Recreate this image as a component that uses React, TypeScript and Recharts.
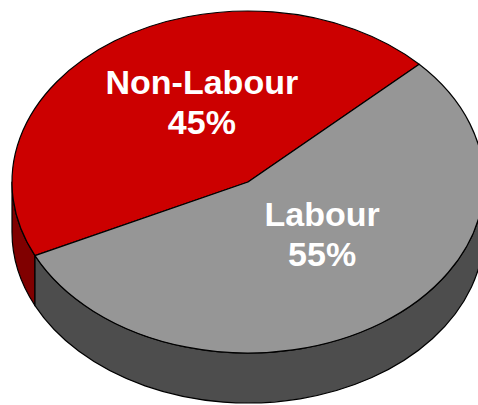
import { PieChart, Pie } from "recharts";

const CATEGORIES = ["Non-Labour", "Labour"];
const VALUES = [45, 55];
const TOP_COLORS = ["#cc0000", "#969696"];
const SIDE_COLORS = ["#800000", "#4d4d4d"];

const data = CATEGORIES.map((name, i) => ({
  name,
  value: VALUES[i],
  fill: TOP_COLORS[i],
  side: SIDE_COLORS[i],
}));

const TILT = 171 / 236;
const DEPTH = 50;
const RAD = Math.PI / 180;

function Sector3D(props: any) {
  const { cx, cy, outerRadius, startAngle, endAngle, fill, payload } = props;
  const rx = outerRadius;
  const ry = outerRadius * TILT;
  const pt = (a: number, dy = 0) =>
    `${cx + rx * Math.cos(a * RAD)},${cy - ry * Math.sin(a * RAD) + dy}`;
  const lo0 = Math.min(startAngle, endAngle);
  const hi0 = Math.max(startAngle, endAngle);
  const large = hi0 - lo0 > 180 ? 1 : 0;
  const top = `M${cx},${cy} L${pt(lo0)} A${rx},${ry} 0 ${large} 0 ${pt(hi0)} Z`;

  // side wall only where the rim faces the viewer (bottom half)
  const sides: string[] = [];
  for (let k = -1; k <= 1; k++) {
    const lo = Math.max(lo0, 180 + 360 * k);
    const hi = Math.min(hi0, 360 + 360 * k);
    if (hi > lo) {
      sides.push(
        `M${pt(lo)} A${rx},${ry} 0 0 0 ${pt(hi)} L${pt(hi, DEPTH)} A${rx},${ry} 0 0 1 ${pt(lo, DEPTH)} Z`
      );
    }
  }
  const sideFill = payload?.side ?? props.side;

  return (
    <g>
      {sides.map((d, i) => (
        <path key={i} d={d} fill={sideFill} stroke="#000" strokeWidth={1.2} strokeLinejoin="round" />
      ))}
      <path d={top} fill={fill} stroke="#000" strokeWidth={1.2} strokeLinejoin="round" />
    </g>
  );
}

function renderLabel(props: any) {
  const { cx, cy, midAngle, outerRadius, name, percent } = props;
  const rx = outerRadius * 0.45;
  const ry = outerRadius * TILT * 0.47;
  const x = cx + rx * Math.cos(midAngle * RAD) + 14;
  const y = cy - ry * Math.sin(midAngle * RAD) - 14;
  return (
    <text
      x={x}
      y={y}
      fill="#fff"
      textAnchor="middle"
      fontFamily="'Liberation Sans', Arial, sans-serif"
      fontWeight="bold"
      fontSize={34}
    >
      <tspan x={x} y={y - 8}>{name}</tspan>
      <tspan x={x} y={y + 32}>{`${Math.round(percent * 100)}%`}</tspan>
    </text>
  );
}

export default function App() {
  return (
    <div style={{ position: "absolute", left: 0, top: 0, width: 478, height: 405, background: "#fff" }}>
      <PieChart width={478} height={405} margin={{ top: 0, right: 0, bottom: 0, left: 0 }}>
        <Pie
          data={data}
          dataKey="value"
          nameKey="name"
          cx={248}
          cy={182}
          outerRadius={236}
          startAngle={43.5}
          endAngle={403.5}
          shape={Sector3D}
          activeShape={Sector3D}
          inactiveShape={Sector3D}
          label={renderLabel}
          labelLine={false}
          isAnimationActive={false}
        />
      </PieChart>
    </div>
  );
}
